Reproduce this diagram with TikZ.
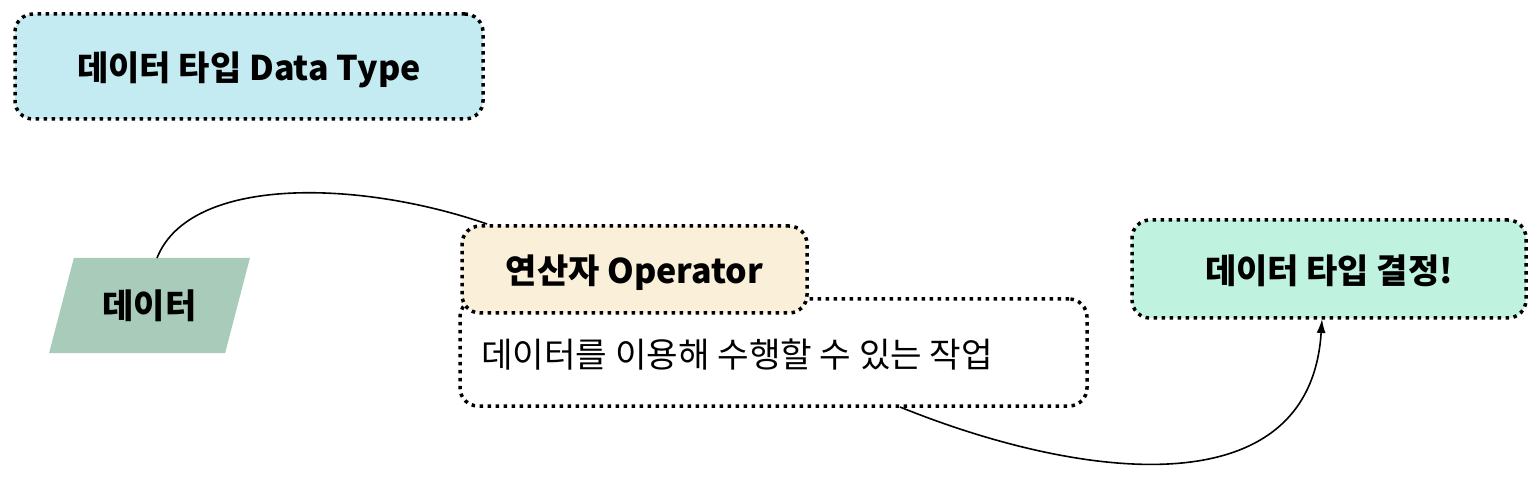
\documentclass[tikz,border=0pt]{standalone}
\usepackage{fontspec}
\setmainfont{Noto Sans CJK KR}
\usetikzlibrary{shapes.geometric,arrows.meta}
\definecolor{cyanfill}{HTML}{C5EBF2}
\definecolor{datafill}{HTML}{A8CBBA}
\definecolor{opfill}{HTML}{FAF0D9}
\definecolor{mintfill}{HTML}{C0F2E0}
\tikzset{
  dotbox/.style={draw=black, line width=3.5pt, dash pattern=on 3.5pt off 4.5pt, rounded corners=18pt, inner sep=0pt},
  boldtxt/.style={font=\fontsize{34}{36}\selectfont\bfseries, inner sep=0pt},
  plaintxt/.style={font=\fontsize{34.3}{36}\selectfont, inner sep=0pt},
  link/.style={line width=1.6pt}
}
\begin{document}
\begin{tikzpicture}[x=1pt,y=-1pt]
\useasboundingbox (0,0) rectangle (1534,494);
% data type box
\node[dotbox, fill=cyanfill, minimum width=468pt, minimum height=105pt] (dt) at (249,66.5) {};
\node[boldtxt] (dttxt) at ([yshift=-3pt]dt.center) {데이터 타입 Data Type};
% parallelogram
\node[trapezium, trapezium stretches=true, trapezium left angle=66, trapezium right angle=114, fill=datafill, minimum width=201pt, minimum height=95pt, inner sep=2pt, font=\fontsize{34}{36}\selectfont\bfseries] (data) at (149.5,305.5) {데이터};
% description box
\node[dotbox, fill=white, minimum width=627pt, minimum height=107pt] (desc) at (773.5,352.5) {};
\node[plaintxt, anchor=west] (desctxt) at (481,355) {데이터를 이용해 수행할 수 있는 작업};
% operator box
\node[dotbox, fill=opfill, minimum width=345pt, minimum height=87pt] (op) at (634.5,269.5) {};
\node[boldtxt] (optxt) at ([yshift=-3pt]op.center) {연산자 Operator};
% result box
\node[dotbox, fill=mintfill, minimum width=394pt, minimum height=98pt] (res) at (1329,269) {};
\node[boldtxt] (restxt) at ([yshift=-1.5pt]res.center) {데이터 타입 결정!};
% connectors
\coordinate (a1) at (157,258);
\coordinate (a2) at (487,224);
\draw[link] (a1) .. controls (190,175) and (360,180) .. (a2);
\coordinate (b1) at (900,407);
\coordinate (b2) at (1322,319);
\draw[link, -{Latex[length=14pt,width=9pt]}] (b1) .. controls (1080,480) and (1310,510) .. (b2);
\end{tikzpicture}
\end{document}
